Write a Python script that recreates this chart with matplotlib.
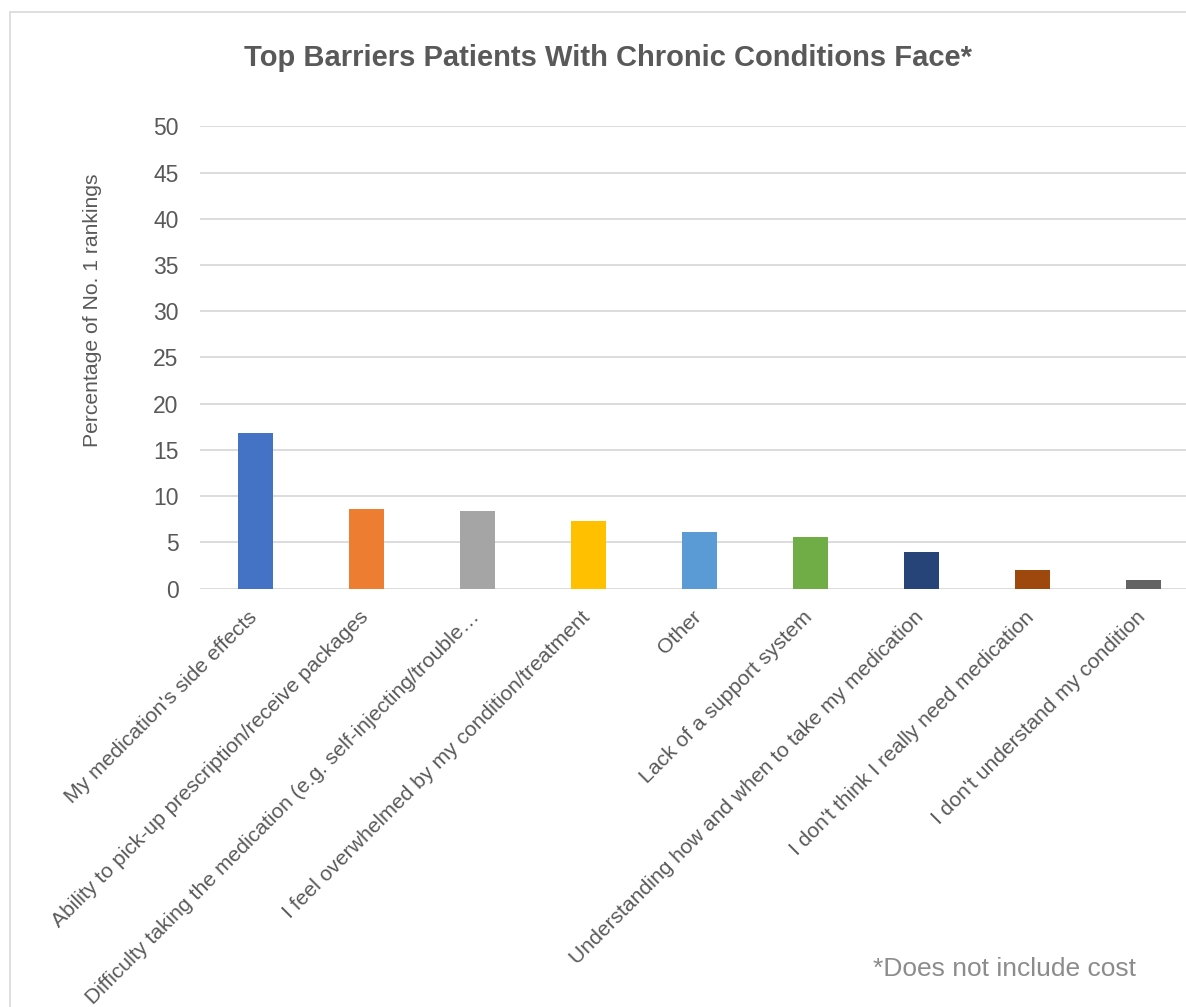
import matplotlib.pyplot as plt
from matplotlib.patches import Rectangle
from matplotlib.transforms import ScaledTranslation

plt.rcParams['font.family'] = ['Liberation Sans', 'DejaVu Sans']

# data
categories = [
    "My medication's side effects",
    "Ability to pick-up prescription/receive packages",
    "Difficulty taking the medication (e.g. self-injecting/trouble\u2026",
    "I feel overwhelmed by my condition/treatment",
    "Other",
    "Lack of a support system",
    "Understanding how and when to take my medication",
    "I don't think I really need medication",
    "I don't understand my condition",
]
values = [16.8, 8.6, 8.4, 7.3, 6.1, 5.6, 3.9, 2.0, 0.9]
colors = ["#4472C4", "#ED7D31", "#A5A5A5", "#FFC000", "#5B9BD5",
          "#70AD47", "#264478", "#9E480E", "#636363"]
yticks = list(range(0, 51, 5))

W, H = 1186, 1007
fig = plt.figure(figsize=(W / 100, H / 100), dpi=100)

# chart frame
fig.patches.append(Rectangle((10 / W, -0.1), 1.2, 1 - 12 / H + 0.1,
                             transform=fig.transFigure, fill=False,
                             edgecolor="#D9D9D9", linewidth=1.2))

ax = fig.add_axes([200 / W, 1 - 588.5 / H, 999 / W, 462 / H])
x = range(len(categories))
ax.bar(x, values, width=0.315, color=colors, zorder=3)

ax.set_xlim(-0.5, len(categories) - 0.5)
ax.set_ylim(0, 50)
ax.set_yticks(yticks)
ax.yaxis.grid(True, color="#D9D9D9", linewidth=1.3, zorder=0)
for s in ax.spines.values():
    s.set_visible(False)
ax.tick_params(length=0, colors="#595959", labelsize=16.5, pad=15.5)

ax.set_xticks(list(x))
ax.set_xticklabels(categories, rotation=45, ha="right", va="top",
                   rotation_mode="anchor", fontsize=15.2, color="#595959")
ax.tick_params(axis="x", pad=0)
shift = ScaledTranslation(-0.08, -0.19, fig.dpi_scale_trans)
for lab in ax.get_xticklabels():
    lab.set_transform(lab.get_transform() + shift)

fig.text(93 / W, 1 - 310 / H, "Percentage of No. 1 rankings", rotation=90,
         ha="center", va="center", fontsize=15.2, color="#595959")

fig.text(608 / W, 1 - 58 / H, "Top Barriers Patients With Chronic Conditions Face*",
         ha="center", va="center", fontsize=21, fontweight="bold", color="#595959")
fig.text(1136 / W, 1 - 969 / H, "*Does not include cost", ha="right", va="center",
         fontsize=19, color="#8C8C8C")

fig.savefig("out.png", dpi=100)
